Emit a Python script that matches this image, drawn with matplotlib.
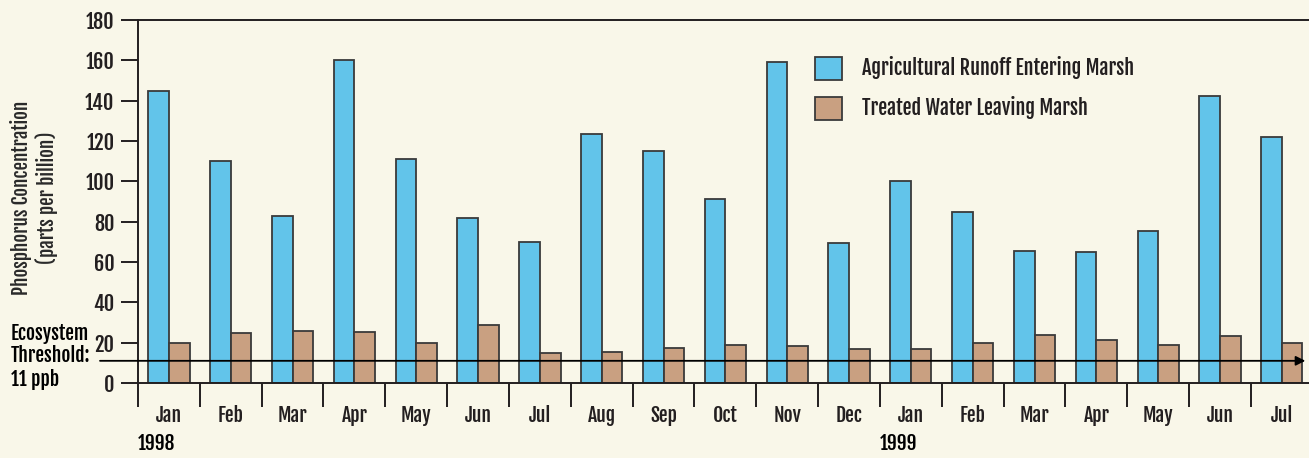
import matplotlib
matplotlib.use("Agg")
import matplotlib.pyplot as plt
import numpy as np

months = ["Jan", "Feb", "Mar", "Apr", "May", "Jun", "Jul", "Aug", "Sep", "Oct",
          "Nov", "Dec", "Jan", "Feb", "Mar", "Apr", "May", "Jun", "Jul"]
runoff = [145, 110, 83, 160, 111, 82, 70, 123.5, 115, 91, 159, 69.5, 100, 85,
          65.5, 65, 75.5, 142.5, 122]
treated = [20, 25, 26, 25.5, 20, 29, 15, 15.5, 17.5, 19, 18.5, 17, 17, 20,
           24, 21.5, 19, 23.5, 20]
years = ["1998", "1999"]
year_start = [0, 12]
threshold = 11
yticks = [0, 20, 40, 60, 80, 100, 120, 140, 160, 180]
series_names = ["Agricultural Runoff Entering Marsh", "Treated Water Leaving Marsh"]

BG = "#f9f7e9"
BLUE = "#62c4ea"
BROWN = "#c9a081"
EDGE = "#3a3a3a"
TXT = "#231f20"
FONT = ["Fjalla One", "IBM Plex Sans Condensed", "DejaVu Sans"]
FS = 14.5

plt.rcParams["font.family"] = FONT

W, H = 1309, 458
fig = plt.figure(figsize=(W / 100, H / 100), dpi=100, facecolor=BG)
n = len(months)
step = 61.83
left, bottom_px, top_px = 138, 383, 20
ax = fig.add_axes([left / W, (H - bottom_px) / H, n * step / W, (bottom_px - top_px) / H])
ax.set_facecolor(BG)
ax.set_xlim(0, n)
ax.set_ylim(0, 180)

x = np.arange(n)
bw = 1 / 3
ax.bar(x + 1 / 6, runoff, width=bw, align="edge", color=BLUE, edgecolor=EDGE,
       linewidth=1.3, label=series_names[0], zorder=2)
ax.bar(x + 1 / 2, treated, width=bw, align="edge", color=BROWN, edgecolor=EDGE,
       linewidth=1.3, label=series_names[1], zorder=2)

ax.spines["right"].set_visible(False)
for s in ["left", "bottom", "top"]:
    ax.spines[s].set_color(TXT)
    ax.spines[s].set_linewidth(1.4)

ax.set_yticks(yticks)
ax.set_yticklabels([str(v) for v in yticks], fontsize=FS, color=TXT)
ax.tick_params(axis="y", length=12, width=1.4, color=TXT, pad=5)

ax.set_xticks(np.arange(n + 1))
ax.set_xticklabels([])
ax.tick_params(axis="x", length=17, width=1.4, color=TXT)
for i, m in enumerate(months):
    ax.text(i + 0.5, -16, m, ha="center", va="center", fontsize=14,
            color=TXT, clip_on=False)
for y, s in zip(years, year_start):
    ax.text(s, -30, y, ha="left", va="center", fontsize=14,
            color="black", clip_on=False)

# threshold line with arrow
ax.annotate("", xy=(n - 0.12, threshold), xytext=(-38 / step, threshold),
            xycoords="data", textcoords="data", annotation_clip=False,
            arrowprops=dict(arrowstyle="-|>", color="black", lw=1.3,
                            mutation_scale=14, shrinkA=0, shrinkB=0), zorder=3)
for txt, ypx in zip(["Ecosystem", "Threshold:", "11 ppb"], [333, 356, 379]):
    fig.text(11 / W, 1 - ypx / H, txt, ha="left", va="center",
             fontsize=14, color="black")

fig.text(21 / W, 1 - 198 / H, "Phosphorus Concentration",
         rotation=90, ha="center", va="center", fontsize=13.7, color="#2a2a2a")
fig.text(47 / W, 1 - 198 / H, "(parts per billion)",
         rotation=90, ha="center", va="center", fontsize=13.7, color="#2a2a2a")

ax.legend(loc="upper left", bbox_to_anchor=(815 / W, 1 - 56 / H),
          bbox_transform=fig.transFigure, borderpad=0, borderaxespad=0,
          frameon=False, handlelength=1.34, handleheight=1.34,
          handletextpad=1.0, labelspacing=0.82, labelcolor=TXT,
          prop={"family": FONT, "size": FS})

fig.savefig("out.png", dpi=100, facecolor=BG)
